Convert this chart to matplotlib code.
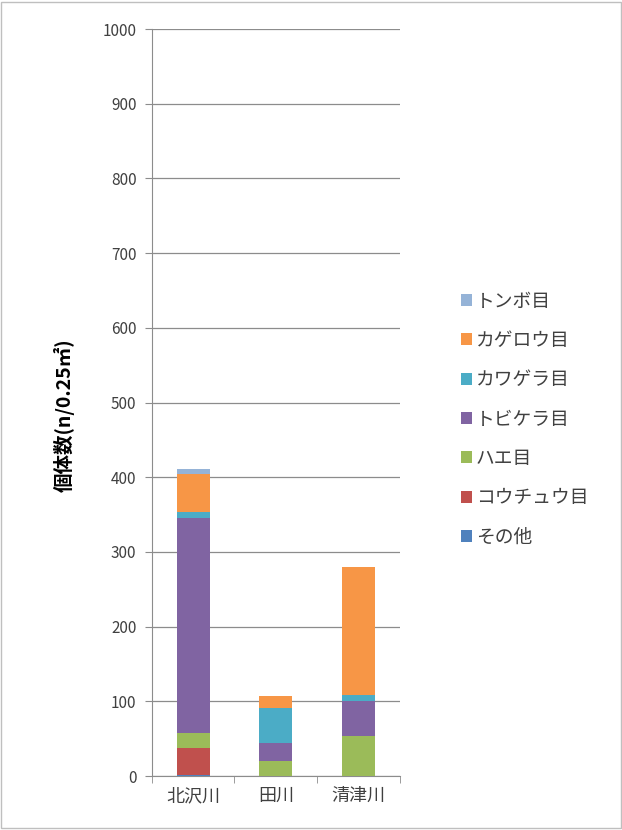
import matplotlib
matplotlib.use("Agg")
import matplotlib.pyplot as plt
import numpy as np

plt.rcParams['font.family'] = ['Noto Sans CJK JP', 'DejaVu Sans']

rivers = ["北沢川", "田川", "清津川"]
# stacked from the bottom up
groups = ["その他", "コウチュウ目", "ハエ目", "トビケラ目", "カワゲラ目", "カゲロウ目", "トンボ目"]
sonota    = [1, 0, 0]
kouchuu   = [37, 0, 0]
hae       = [20, 20, 54]
tobikera  = [288, 24, 46]
kawagera  = [7, 47, 8]
kagerou   = [51, 16, 172]
tonbo     = [7, 0, 0]
colors = ["#4F81BD", "#C0504D", "#9BBB59", "#8064A2", "#4BACC6", "#F79646", "#95B3D7"]

series = [sonota, kouchuu, hae, tobikera, kawagera, kagerou, tonbo]

fig = plt.figure(figsize=(6.22, 8.30), dpi=100)
ax = fig.add_axes([0.244, 0.065, 0.399, 0.9])

x = np.arange(len(rivers))
bottom = np.zeros(len(rivers))
handles = []
for name, vals, c in zip(groups, series, colors):
    b = ax.bar(x, vals, 0.4, bottom=bottom, color=c, label=name, zorder=3)
    handles.append(b)
    bottom += np.array(vals)

ax.set_xlim(-0.5, 2.5)
ax.set_ylim(0, 1000)
ax.set_yticks(np.arange(0, 1001, 100))
ax.yaxis.grid(True, color="#8c8c8c", linewidth=0.9, zorder=0)
ax.set_xticks(x)
ax.set_xticklabels(rivers, fontsize=13, color="#404040")
ax.set_xticks([-0.5, 0.5, 1.5, 2.5], minor=True)
ax.tick_params(axis="x", which="major", length=0, pad=8)
ax.tick_params(axis="x", which="minor", length=5, color="#8c8c8c")
ax.tick_params(axis="y", length=5, color="#8c8c8c", labelsize=11, labelcolor="#404040", pad=6)
for s in ["top", "right"]:
    ax.spines[s].set_visible(False)
for s in ["left", "bottom"]:
    ax.spines[s].set_color("#8c8c8c")

ax.set_ylabel("個体数(n/0.25㎡)", fontsize=14, fontweight="bold")
ax.yaxis.set_label_coords(-0.31, 0.483)

fig.legend(handles[::-1], groups[::-1], loc="center left", bbox_to_anchor=(0.714, 0.495),
           frameon=False, fontsize=13.5, handlelength=0.6, handleheight=0.6,
           handletextpad=0.2, labelspacing=0.98, labelcolor="#404040")

fig.patches.append(plt.Rectangle((0.002, 0.002), 0.996, 0.996, transform=fig.transFigure,
                                 fill=False, edgecolor="#bfbfbf", linewidth=1))

fig.savefig("out.png", dpi=100)
